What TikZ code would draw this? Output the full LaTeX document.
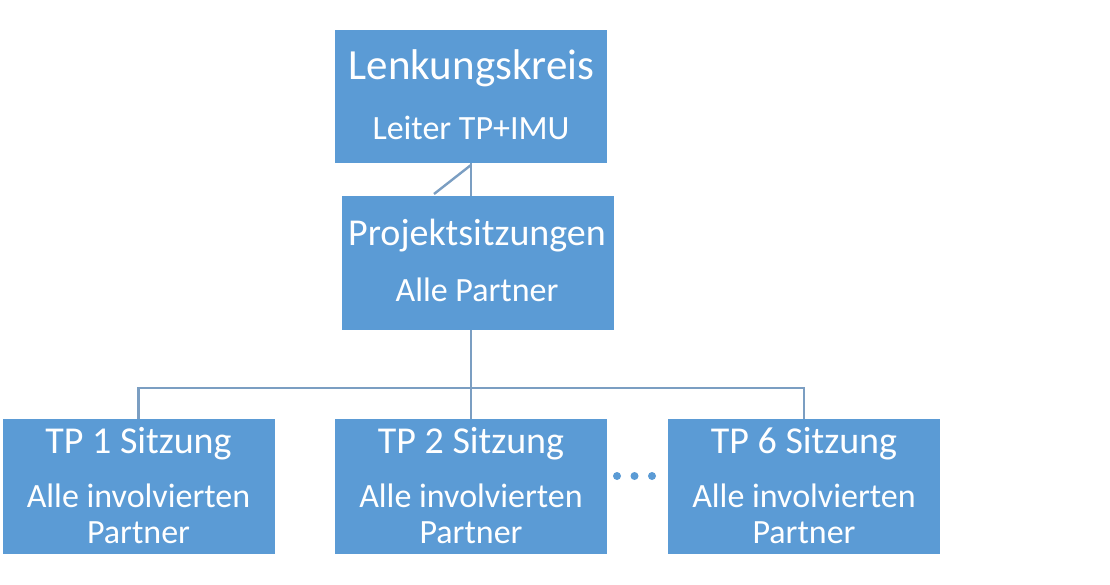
\documentclass[tikz,border=0pt]{standalone}
\usepackage{fontspec}
\setmainfont{Carlito}
\definecolor{boxblue}{HTML}{5B9BD5}
\definecolor{lineblue}{HTML}{7B9EC2}
\begin{document}
\begin{tikzpicture}[x=1pt,y=-1pt,
  orgbox/.style={draw=none,fill=boxblue,minimum width=272pt,minimum height=134pt,inner sep=0pt,outer sep=0pt},
  conn/.style={draw=lineblue,line width=2.4pt},
  big/.style={text=white,anchor=base,inner sep=0pt,font=\fontsize{38}{40}\selectfont},
  small/.style={text=white,anchor=base,inner sep=0pt,font=\fontsize{34}{36}\selectfont},
  dot/.style={circle,fill=boxblue,minimum size=8pt,inner sep=0pt}]
\useasboundingbox (0,0) rectangle (1110,585);
% boxes
\node[orgbox,minimum height=133pt] (lk) at (471,96.5) {};
\node[orgbox] (ps) at (478,263) {};
\node[orgbox,minimum height=135pt] (tp1) at (138.5,486.5) {};
\node[orgbox,minimum height=135pt] (tp2) at (471,486.5) {};
\node[orgbox,minimum height=135pt] (tp6) at (804,486.5) {};
% texts
\node[big,font=\fontsize{43}{45}\selectfont] (lkt) at (471.5,80) {Lenkungskreis};
\node[small] (lks) at (471,140) {Leiter TP+IMU};
\node[big] (pst) at (477,246) {Projektsitzungen};
\node[small] (pss) at (477,301) {Alle Partner};
\foreach \n/\k in {tp1/1,tp2/2,tp6/6}{
  \node[big] (\n t) at ([yshift=33.5pt]\n.center) {TP \k{} Sitzung};
  \node[small] (\n a) at ([yshift=-20.5pt]\n.center) {Alle involvierten};
  \node[small] (\n p) at ([yshift=-56.5pt]\n.center) {Partner};
}
% connectors
\coordinate (diag) at (434,194);
\coordinate (bus) at (471,388);
\draw[conn] (lk.south) -- (lk.south |- ps.north);
\draw[conn] ([yshift=-2pt]lk.south) -- (diag);
\draw[conn] (ps.south -| lk.south) -- (bus);
\draw[conn] (tp1.north) |- (bus) -| (tp6.north);
\draw[conn] (bus) -- (tp2.north);
% dots
\node[dot] (d1) at (617,476) {};
\node[dot] (d2) at (634.5,476) {};
\node[dot] (d3) at (652,476) {};
\end{tikzpicture}
\end{document}
